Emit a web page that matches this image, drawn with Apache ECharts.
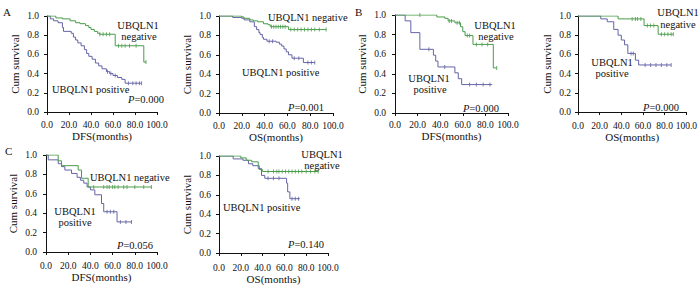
<!DOCTYPE html>
<html>
<head>
<meta charset="utf-8">
<script src="https://cdn.jsdelivr.net/npm/echarts@6/dist/echarts.min.js"></script>
<style>
  html, body { margin: 0; background: #fff; }
  #chart { width: 700px; height: 290px; }
</style>
</head>
<body>
<div id="chart"></div>
<script>
// Kaplan-Meier curves: [months, cum survival] at each step
const aDfsNeg = [[0,1],[8,0.98],[14,0.97],[21,0.95],[26,0.93],[30,0.92],[35,0.90],[38,0.88],[40,0.86],[43,0.84],[46,0.82],[48,0.81],[62,0.69],[88,0.52],[90,0.52]];
const aDfsPos = [[0,1],[3,0.97],[6,0.95],[10,0.93],[14,0.88],[15,0.84],[22,0.82],[24,0.78],[26,0.75],[28,0.72],[31,0.69],[34,0.65],[36,0.61],[38,0.58],[41,0.55],[44,0.51],[47,0.48],[50,0.45],[54,0.42],[57,0.40],[60,0.38],[64,0.36],[68,0.34],[71,0.30],[86,0.30]];
const aOsNeg = [[0,1],[20,0.99],[22,0.976],[27,0.96],[30,0.95],[34,0.94],[39,0.92],[43,0.91],[45,0.89],[61,0.86],[94,0.86]];
const aOsPos = [[0,1],[12,0.985],[20,0.976],[22,0.96],[27,0.94],[31,0.89],[33,0.86],[35,0.83],[36,0.81],[38,0.78],[39,0.76],[42,0.74],[50,0.73],[53,0.71],[55,0.69],[57,0.66],[59,0.63],[61,0.60],[64,0.565],[74,0.52],[84,0.52]];
const bDfsNeg = [[0,1],[37,0.98],[44,0.966],[47,0.94],[53,0.92],[58,0.88],[60,0.83],[62,0.79],[69,0.70],[87,0.46],[90,0.46]];
const bDfsPos = [[0,1],[9,0.94],[14,0.82],[22,0.65],[34,0.59],[36,0.53],[38,0.47],[53,0.41],[56,0.35],[59,0.29],[86,0.29]];
const bOsNeg = [[0,1],[37,0.97],[61,0.90],[74,0.81],[88,0.81]];
const bOsPos = [[0,1],[21,0.97],[27,0.94],[33,0.86],[37,0.80],[40,0.75],[43,0.70],[46,0.61],[53,0.54],[56,0.49],[86,0.49]];
const cDfsNeg = [[0,1],[11,0.94],[14,0.89],[29,0.845],[32,0.76],[38,0.67],[95,0.67]];
const cDfsPos = [[0,1],[2,0.95],[11,0.91],[14,0.88],[17,0.845],[23,0.81],[28,0.77],[31,0.74],[34,0.71],[37,0.67],[40,0.64],[44,0.59],[50,0.50],[52,0.415],[64,0.31],[77,0.31]];
const cOsNeg = [[0,1],[20,0.98],[25,0.956],[30,0.94],[36,0.90],[37,0.86],[40,0.84],[91,0.84]];
const cOsPos = [[0,1],[13,0.97],[22,0.956],[27,0.92],[31,0.90],[36,0.87],[39,0.80],[42,0.77],[62,0.72],[63,0.63],[65,0.56],[74,0.56]];

// censored times (months)
const aDfsNegCens = [48,51,54,57,65,68,71,75,81,90];
const aDfsPosCens = [55,58,62,74,78,81,84,86];
const aOsNegCens = [46,48,50,52,54,56,58,63,66,69,72,75,78,81,84,88,94];
const aOsPosCens = [44,47,66,70,78,81,84];
const bDfsNegCens = [22,48,50,55,57,64,66,72,77,82,90];
const bDfsPosCens = [30,44,66,72,78,84];
const bOsNegCens = [50,53,55,58,64,67,70,77,80,83,86,88];
const bOsPosCens = [49,51,62,67,72,77,82,86];
const cDfsNegCens = [43,52,55,57,60,62,65,70,73,80,88,95];
const cDfsPosCens = [55,58,61,67,72,77];
const cOsNegCens = [45,50,53,55,58,61,64,67,70,73,76,80,84,88,91];
const cOsPosCens = [45,50,55,67,70,73];

const pValues = ['0.000', '0.001', '0.000', '0.000', '0.056', '0.140'];
const xTitles = ['DFS(months)', 'OS(months)', 'DFS(months)', 'OS(months)', 'DFS(months)', 'OS(months)'];

const curves = [
  [aDfsNeg, aDfsPos, aDfsNegCens, aDfsPosCens],
  [aOsNeg, aOsPos, aOsNegCens, aOsPosCens],
  [bDfsNeg, bDfsPos, bDfsNegCens, bDfsPosCens],
  [bOsNeg, bOsPos, bOsNegCens, bOsPosCens],
  [cDfsNeg, cDfsPos, cDfsNegCens, cDfsPosCens],
  [cOsNeg, cOsPos, cOsNegCens, cOsPosCens]
];

// panel geometry in px: x of 0 and 100 months, y of 1.0 and 0.0, axis line positions
const boxes = [
  {x0: 47, x1: 157, y1: 16, y0: 112, yLine: 41, xLine: 117},
  {x0: 219, x1: 333, y1: 16, y0: 113, yLine: 213, xLine: 118},
  {x0: 395, x1: 508, y1: 15, y0: 113, yLine: 388, xLine: 117},
  {x0: 578, x1: 688, y1: 16, y0: 112, yLine: 573, xLine: 118},
  {x0: 46, x1: 157, y1: 155, y0: 252, yLine: 39, xLine: 258},
  {x0: 219, x1: 328, y1: 156, y0: 253, yLine: 213, xLine: 260}
];

const GREEN = '#4a9c4a';
const BLUE = '#6464a6';
const FONT = 'Liberation Serif';

function survivalAt(steps, t) {
  let s = steps[0][1];
  for (const p of steps) { if (p[0] <= t) s = p[1]; }
  return s;
}

const grid = [], xAxis = [], yAxis = [], series = [];
boxes.forEach((b, i) => {
  grid.push({left: b.x0, top: b.y1, width: b.x1 - b.x0, height: b.y0 - b.y1});
  xAxis.push({
    gridIndex: i, type: 'value', min: 0, max: 100, interval: 20,
    offset: b.xLine - b.y0,
    name: xTitles[i], nameLocation: 'middle', nameGap: 13,
    nameTextStyle: {fontFamily: FONT, fontSize: 11, color: '#111'},
    axisLine: {lineStyle: {color: '#111', width: 1}},
    axisTick: {length: 3, lineStyle: {color: '#111'}},
    axisLabel: {fontFamily: FONT, fontSize: 9.5, color: '#111', margin: 3,
      formatter: v => v.toFixed(1)},
    splitLine: {show: false}
  });
  yAxis.push({
    gridIndex: i, type: 'value', min: 0, max: 1, interval: 0.2,
    offset: b.x0 - b.yLine,
    name: 'Cum survival', nameLocation: 'middle', nameGap: 21,
    nameTextStyle: {fontFamily: FONT, fontSize: 11, color: '#111'},
    axisLine: {show: true, lineStyle: {color: '#111', width: 1}},
    axisTick: {show: true, length: 3, lineStyle: {color: '#111'}},
    axisLabel: {fontFamily: FONT, fontSize: 9.5, color: '#111', margin: 2,
      formatter: v => v.toFixed(1)},
    splitLine: {show: false}
  });
  const [neg, pos, negC, posC] = curves[i];
  [[pos, posC, BLUE], [neg, negC, GREEN]].forEach(([steps, cens, col]) => {
    series.push({
      type: 'line', xAxisIndex: i, yAxisIndex: i, step: 'end', data: steps,
      showSymbol: false, lineStyle: {color: col, width: 1}, silent: true
    });
    series.push({
      type: 'scatter', xAxisIndex: i, yAxisIndex: i,
      data: cens.map(t => [t, survivalAt(steps, t)]),
      symbol: 'rect', symbolSize: [1, 4], itemStyle: {color: col}, silent: true
    });
  });
});

function txt(x, y, s, align) {
  return {type: 'text', x: x, y: y, style: {text: s, fontFamily: FONT, fontSize: 10.5,
    fill: '#111', align: align || 'left', verticalAlign: 'middle'}};
}
function pTxt(x, y, v) {
  return {type: 'text', x: x, y: y, style: {
    text: '{i|P}=' + v, fontFamily: FONT, fontSize: 10.5, fill: '#111', verticalAlign: 'middle',
    rich: {i: {fontStyle: 'italic', fontFamily: FONT, fontSize: 10.5, fill: '#111'}}}};
}

const graphic = [
  {type: 'text', x: 3, y: 12, style: {text: 'A', fontFamily: FONT, fontSize: 11, fill: '#111', verticalAlign: 'middle'}},
  {type: 'text', x: 355, y: 12, style: {text: 'B', fontFamily: FONT, fontSize: 11, fill: '#111', verticalAlign: 'middle'}},
  {type: 'text', x: 5, y: 151, style: {text: 'C', fontFamily: FONT, fontSize: 11, fill: '#111', verticalAlign: 'middle'}},
  // A DFS
  txt(138, 25, 'UBQLN1', 'center'), txt(139, 36, 'negative', 'center'),
  txt(52, 89, 'UBQLN1 positive'), pTxt(128, 99, pValues[0]),
  // A OS
  txt(268, 17, 'UBQLN1 negative'), txt(242, 72, 'UBQLN1 positive'), pTxt(288, 107, pValues[1]),
  // B DFS
  txt(495, 25, 'UBQLN1', 'center'), txt(496, 36, 'negative', 'center'),
  txt(429, 78, 'UBQLN1', 'center'), txt(430, 89, 'positive', 'center'), pTxt(463, 108, pValues[2]),
  // B OS
  txt(678, 12, 'UBQLN1', 'center'), txt(678, 24, 'negative', 'center'),
  txt(612, 62, 'UBQLN1', 'center'), txt(612, 73, 'positive', 'center'), pTxt(643, 107, pValues[3]),
  // C DFS
  txt(90, 177, 'UBQLN1 negative'), txt(75, 211, 'UBQLN1', 'center'), txt(75, 222, 'positive', 'center'),
  pTxt(117, 245, pValues[4]),
  // C OS
  txt(322, 154, 'UBQLN1', 'center'), txt(322, 165, 'negative', 'center'),
  txt(223, 207, 'UBQLN1 positive'), pTxt(288, 244, pValues[5])
];

const chart = echarts.init(document.getElementById('chart'), null, {renderer: 'svg'});
chart.setOption({animation: false, grid, xAxis, yAxis, series, graphic});
</script>
</body>
</html>
